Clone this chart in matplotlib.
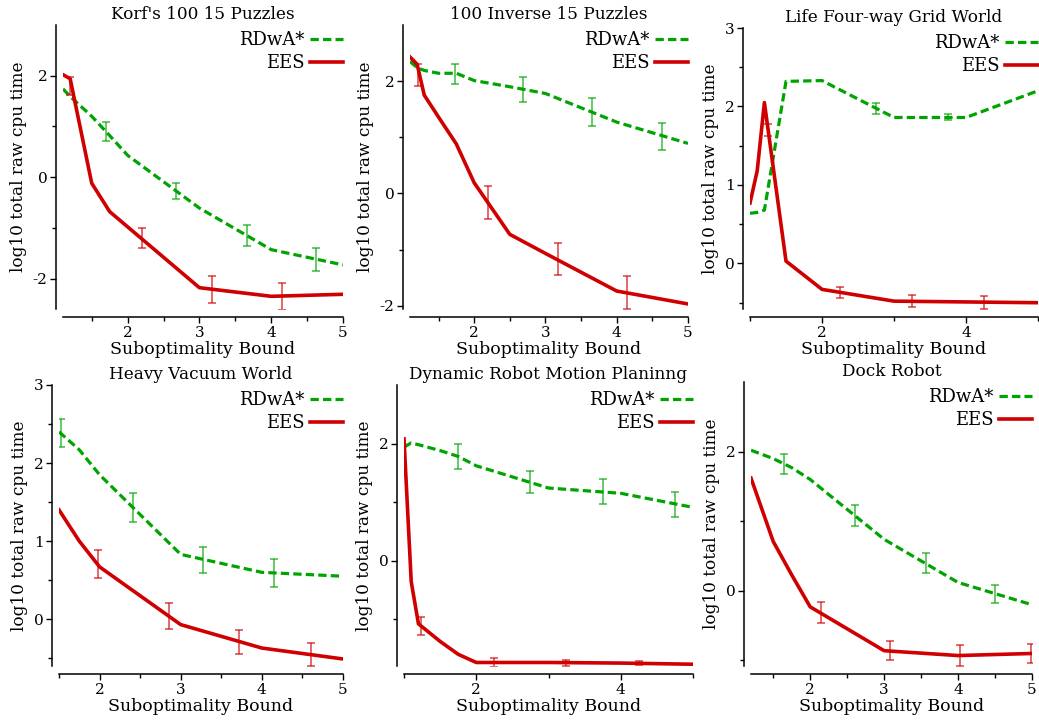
import matplotlib
matplotlib.use("Agg")
import matplotlib.pyplot as plt

plt.rcParams["font.family"] = "DejaVu Serif"
plt.rcParams["lines.scale_dashes"] = False

GREEN = "#00a400"
RED = "#d00000"

# Korf's 100 15 puzzles
korf_bound = [1.1, 1.2, 1.5, 1.75, 2, 3, 4, 5]
korf_rdwa = [1.74, 1.59, 1.2, 0.82, 0.43, -0.61, -1.43, -1.73]
korf_ees = [2.02, 1.94, -0.12, -0.68, -0.98, -2.18, -2.35, -2.31]
korf_rdwa_err_x = [1.7, 2.68, 3.66, 4.63]
korf_rdwa_err_y = [0.9, -0.28, -1.15, -1.63]
korf_rdwa_err = [0.19, 0.16, 0.2, 0.23]
korf_ees_err_x = [1.2, 2.2, 3.17, 4.15]
korf_ees_err_y = [1.8, -1.2, -2.22, -2.35]
korf_ees_err = [0.18, 0.2, 0.27, 0.26]

# 100 inverse 15 puzzles
inv_bound = [1.1, 1.2, 1.3, 1.5, 1.75, 2, 2.5, 3, 4, 5]
inv_rdwa = [2.35, 2.24, 2.19, 2.14, 2.14, 2.01, 1.9, 1.78, 1.27, 0.89]
inv_ees = [2.43, 2.3, 1.75, 1.36, 0.88, 0.19, -0.73, -1.07, -1.74, -1.97]
inv_rdwa_err_x = [1.73, 2.68, 3.66, 4.63]
inv_rdwa_err_y = [2.13, 1.85, 1.45, 1.02]
inv_rdwa_err = [0.18, 0.23, 0.25, 0.24]
inv_ees_err_x = [1.21, 2.19, 3.17, 4.15]
inv_ees_err_y = [2.11, -0.16, -1.17, -1.77]
inv_ees_err = [0.19, 0.3, 0.28, 0.29]

# life four-way grid world
life_bound = [1.0, 1.1, 1.2, 1.5, 2, 3, 4, 5]
life_rdwa = [0.64, 0.65, 0.68, 2.32, 2.33, 1.86, 1.86, 2.2]
life_ees = [0.77, 1.18, 2.05, 0.03, -0.33, -0.48, -0.49, -0.5]
life_rdwa_err_x = [2.75, 3.75]
life_rdwa_err_y = [1.97, 1.87]
life_rdwa_err = [0.07, 0.04]
life_ees_err_x = [1.25, 2.25, 3.25, 4.25]
life_ees_err_y = [1.7, -0.37, -0.48, -0.5]
life_ees_err = [0.08, 0.07, 0.08, 0.085]

# heavy vacuum world
vac_bound = [1.5, 1.75, 2, 3, 4, 5]
vac_rdwa = [2.4, 2.17, 1.85, 0.83, 0.6, 0.55]
vac_ees = [1.4, 1.0, 0.67, -0.07, -0.37, -0.51]
vac_rdwa_err_x = [1.52, 2.41, 3.28, 4.15]
vac_rdwa_err_y = [2.38, 1.43, 0.76, 0.59]
vac_rdwa_err = [0.18, 0.19, 0.17, 0.18]
vac_ees_err_x = [1.98, 2.85, 3.72, 4.6]
vac_ees_err_y = [0.71, 0.04, -0.29, -0.45]
vac_ees_err = [0.18, 0.17, 0.15, 0.15]

# dynamic robot motion planning
robot_bound = [1.0, 1.1, 1.2, 1.5, 1.75, 2, 3, 4, 5]
robot_rdwa = [1.94, 2.01, 1.98, 1.88, 1.78, 1.62, 1.24, 1.15, 0.91]
robot_ees = [2.08, -0.36, -1.08, -1.38, -1.6, -1.74, -1.74, -1.75, -1.77]
robot_rdwa_err_x = [1.75, 2.75, 3.75, 4.75]
robot_rdwa_err_y = [1.78, 1.34, 1.18, 0.96]
robot_rdwa_err = [0.22, 0.19, 0.21, 0.21]
robot_ees_err_x = [1.23, 2.25, 3.24, 4.25]
robot_ees_err_y = [-1.12, -1.74, -1.75, -1.75]
robot_ees_err = [0.15, 0.07, 0.05, 0.04]

# dock robot
dock_bound = [1.2, 1.5, 1.75, 2, 3, 4, 5]
dock_rdwa = [2.02, 1.9, 1.77, 1.6, 0.74, 0.12, -0.2]
dock_ees = [1.62, 0.71, 0.23, -0.23, -0.86, -0.93, -0.9]
dock_rdwa_err_x = [1.64, 2.6, 3.56, 4.5]
dock_rdwa_err_y = [1.82, 1.08, 0.4, -0.05]
dock_rdwa_err = [0.14, 0.15, 0.14, 0.13]
dock_ees_err_x = [2.14, 3.08, 4.03, 4.99]
dock_ees_err_y = [-0.31, -0.86, -0.93, -0.9]
dock_ees_err = [0.15, 0.14, 0.15, 0.14]

W, H = 1039, 723
fig = plt.figure(figsize=(W / 100, H / 100), dpi=100)


def panel(box, title, bound, rdwa, ees, rdwa_err, ees_err,
          xlim, ylim, xmajor, xminor, ymajor, yminor):
    left, top, right, bottom = box
    ax = fig.add_axes([left / W, 1 - bottom / H, (right - left) / W, (bottom - top) / H])
    ax.patch.set_visible(False)

    ax.plot(bound, rdwa, color=GREEN, lw=2.3, dashes=(6, 3), label="RDwA*")
    ax.plot(bound, ees, color=RED, lw=2.6, label="EES")
    for (ex, ey, eh), col in ((rdwa_err, GREEN), (ees_err, RED)):
        ax.errorbar(ex, ey, yerr=eh, fmt="none", ecolor=col, elinewidth=1.1,
                    capsize=2.6, capthick=1.1, alpha=0.75)

    ax.set_xlim(*xlim)
    ax.set_ylim(*ylim)
    ax.set_xticks(xmajor)
    ax.set_xticks(xminor, minor=True)
    ax.set_yticks(ymajor)
    ax.set_yticks(yminor, minor=True)
    ax.set_xticklabels([str(v) for v in xmajor])
    ax.set_yticklabels([str(v) for v in ymajor])

    for s in ("top", "right"):
        ax.spines[s].set_visible(False)
    ax.spines["left"].set_position(("outward", 5))
    ax.spines["bottom"].set_position(("outward", 6))
    for s in ("left", "bottom"):
        ax.spines[s].set_linewidth(1.1)
    ax.tick_params(which="major", length=4, width=1.0, labelsize=11, pad=2)
    ax.tick_params(which="minor", length=3, width=1.0)

    ax.set_title(title, fontsize=12.2, pad=4)
    ax.set_xlabel("Suboptimality Bound", fontsize=12.5, labelpad=1)
    ax.set_ylabel("log10 total raw cpu time", fontsize=12.2, labelpad=4)
    ax.legend(loc="upper right", bbox_to_anchor=(1.0, 0.978), frameon=False,
              markerfirst=False, fontsize=13, handlelength=1.85,
              handletextpad=0.3, borderaxespad=0, borderpad=0,
              labelspacing=0.28)
    return ax


panel((63, 25, 343, 309), "Korf's 100 15 Puzzles", korf_bound, korf_rdwa, korf_ees,
      (korf_rdwa_err_x, korf_rdwa_err_y, korf_rdwa_err),
      (korf_ees_err_x, korf_ees_err_y, korf_ees_err),
      (1.1, 5), (-2.6, 3), [2, 3, 4, 5], [1.5, 2.5, 3.5, 4.5], [-2, 0, 2], [-1, 1])

panel((410, 25, 688, 309), "100 Inverse 15 Puzzles", inv_bound, inv_rdwa, inv_ees,
      (inv_rdwa_err_x, inv_rdwa_err_y, inv_rdwa_err),
      (inv_ees_err_x, inv_ees_err_y, inv_ees_err),
      (1.1, 5), (-2.06, 3), [2, 3, 4, 5], [1.5, 2.5, 3.5, 4.5], [-2, 0, 2], [-1, 1])

panel((750, 28, 1038, 309), "Life Four-way Grid World", life_bound, life_rdwa, life_ees,
      (life_rdwa_err_x, life_rdwa_err_y, life_rdwa_err),
      (life_ees_err_x, life_ees_err_y, life_ees_err),
      (1, 5), (-0.58, 3), [2, 4], [1, 3, 5], [0, 1, 2, 3], [-0.5, 0.5, 1.5, 2.5])

panel((59, 385, 343, 666), "Heavy Vacuum World", vac_bound, vac_rdwa, vac_ees,
      (vac_rdwa_err_x, vac_rdwa_err_y, vac_rdwa_err),
      (vac_ees_err_x, vac_ees_err_y, vac_ees_err),
      (1.5, 5), (-0.6, 3), [2, 3, 4, 5], [1.5, 2.5, 3.5, 4.5], [0, 1, 2, 3], [-0.5, 0.5, 1.5, 2.5])

panel((404, 385, 693, 666), "Dynamic Robot Motion Planinng", robot_bound, robot_rdwa, robot_ees,
      (robot_rdwa_err_x, robot_rdwa_err_y, robot_rdwa_err),
      (robot_ees_err_x, robot_ees_err_y, robot_ees_err),
      (1, 5), (-1.8, 3), [2, 4], [1, 3, 5], [0, 2], [-1, 1])

panel((751, 382, 1032, 666), "Dock Robot", dock_bound, dock_rdwa, dock_ees,
      (dock_rdwa_err_x, dock_rdwa_err_y, dock_rdwa_err),
      (dock_ees_err_x, dock_ees_err_y, dock_ees_err),
      (1.2, 5), (-1.08, 3), [2, 3, 4, 5], [1.5, 2.5, 3.5, 4.5], [0, 2], [-1, 1])

fig.savefig("out.png", dpi=100)
